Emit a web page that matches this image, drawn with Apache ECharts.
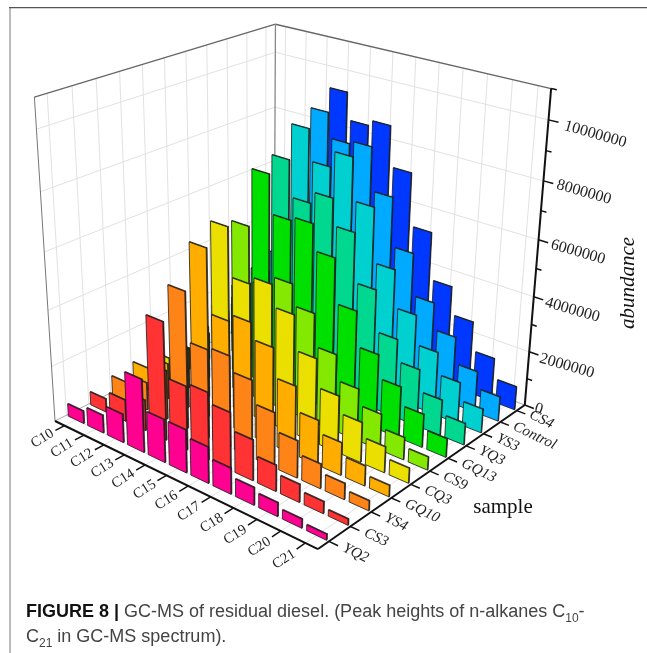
<!DOCTYPE html>
<html><head><meta charset="utf-8">
<style>html,body{margin:0;padding:0;background:#fff}#c{width:647px;height:653px}</style>
<script src="https://cdn.jsdelivr.net/npm/echarts@6/dist/echarts.min.js"></script>
</head><body><div id="c"></div>
<script>
const carbons = ['C10','C11','C12','C13','C14','C15','C16','C17','C18','C19','C20','C21'];
const samples = ['YQ2','CS3','YS4','GQ10','CQ3','CS9','GQ13','YQ3','YS3','Control','CS4'];
const abundanceTicks = [0,2000000,4000000,6000000,8000000,10000000];
const abundanceMax = 11000000;
const YQ2 = [457000,645000,1026000,2600000,1530000,1520000,1275000,905000,613000,476000,311000,196000];
const CS3 = [488000,778000,1110000,4200000,2270000,2390000,2030000,1430000,915000,625000,412000,208000];
const YS4 = [680000,1000000,1770000,4880000,3150000,3250000,2730000,1940000,1310000,858000,560000,343000];
const GQ10 = [816000,1300000,2200000,6020000,3770000,4030000,3460000,2440000,1580000,1150000,700000,396000];
const CQ3 = [805000,1500000,2600000,6420000,4710000,4980000,4220000,3000000,2010000,1420000,916000,529000];
const CS9 = [800000,1600000,2800000,6120000,4200000,4650000,3900000,2750000,1845000,1280000,796000,466000];
const GQ13 = [1000000,1900000,3200000,7630000,6270000,6410000,5490000,3910000,2670000,1840000,1190000,667000];
const YQ3 = [1100000,2100000,3500000,7840000,6560000,6980000,6040000,4300000,2830000,2050000,1280000,777000];
const YS3 = [1200000,2300000,3800000,8650000,7540000,8110000,6610000,4670000,3330000,2280000,1500000,867000];
const Control = [1200000,2400000,4000000,8960000,8080000,8190000,6660000,4920000,3410000,2450000,1500000,895000];
const CS4 = [1300000,2500000,4200000,9420000,8460000,8660000,7230000,5350000,3650000,2640000,1590000,858000];
const rows = [YQ2,CS3,YS4,GQ10,CQ3,CS9,GQ13,YQ3,YS3,Control,CS4];
const palette = ['#ff0090','#ff3333','#ff8418','#ffae00','#ebdf00','#84e900','#00e000','#00d890','#00d0d0','#00aaff','#0038ff'];

// Perspective camera: unit box -> screen
const cam = {o:[55,421],vx:[-1711,-439],vy:[1681,-400],vz:[258,3611],a:-0.1296,b:0.1557,c:-0.0922};
function P(X,Y,Z){
  const w=1+cam.a*X+cam.b*Y+cam.c*Z;
  return [(cam.a*X*cam.vx[0]+cam.b*Y*cam.vy[0]+cam.c*Z*cam.vz[0]+cam.o[0])/w,
          (cam.a*X*cam.vx[1]+cam.b*Y*cam.vy[1]+cam.c*Z*cam.vz[1]+cam.o[1])/w];
}
const zOf=v=>echarts.number.linearMap(v,[0,abundanceMax],[0,1]);
const xOf=i=>(i+0.5)/carbons.length;
const yOf=i=>(i+0.5)/samples.length;
const barHalf=0.0332, depth=0.004;

function line(a,b,color,width){return {type:'line',shape:{x1:a[0],y1:a[1],x2:b[0],y2:b[1]},style:{stroke:color,lineWidth:width},silent:true};}
function poly(pts,fill,stroke,w){return {type:'polygon',shape:{points:pts},style:{fill,stroke,lineWidth:w,lineJoin:'miter'},silent:true};}
function txt(s,p,rot,font,extra){return {type:'text',x:p[0],y:p[1],rotation:rot*Math.PI/180,silent:true,
  style:Object.assign({text:s,fill:'#222',align:'center',verticalAlign:'middle',font},extra||{})};}

function shade(hex,f){const n=parseInt(hex.slice(1),16);const c=[n>>16,(n>>8)&255,n&255].map(v=>Math.round(v*f));return `rgb(${c.join(',')})`;}

function frameItem(){
  const ch=[], grid='#e2e2e2', gw=1;
  const zt=[2,4,6,8,10].map(v=>v*1e6);
  carbons.forEach((_,i)=>{const x=xOf(i);
    ch.push(line(P(x,0,0),P(x,1,0),grid,gw));
    ch.push(line(P(x,1,0),P(x,1,1),grid,gw));});
  samples.forEach((_,i)=>{const y=yOf(i);
    ch.push(line(P(0,y,0),P(1,y,0),grid,gw));
    ch.push(line(P(0,y,0),P(0,y,1),grid,gw));});
  zt.forEach(v=>{const z=zOf(v);
    ch.push(line(P(0,0,z),P(0,1,z),grid,gw));
    ch.push(line(P(0,1,z),P(1,1,z),grid,gw));});
  ch.push(line(P(0,0,0),P(0,0,1),'#777',1));
  ch.push(line(P(0,0,1),P(0,1,1),'#666',1.3));
  ch.push(line(P(0,1,1),P(1,1,1),'#666',1.3));
  ch.push(line(P(0,1,0),P(0,1,1),'#888',1.3));
  ch.push(line(P(0,0,0),P(0,1,0),'#aaa',1));
  ch.push(line(P(0,1,0),P(1,1,0),'#aaa',1));
  return {type:'group',children:ch};
}
function axesItem(){
  const ch=[], k='#111';
  ch.push(line(P(0,0,0),P(1,0,0),k,2));
  ch.push(line(P(1,0,0),P(1,1,0),k,2));
  ch.push(line(P(1,1,0),P(1,1,1),k,2));
  carbons.forEach((c,i)=>{const x=xOf(i);
    ch.push(line(P(x,0,0),P(x,-0.036,0),k,1.5));
    const p=P(x,-0.09,0);
    ch.push(txt(c,[p[0]+1,p[1]+1],32,'14.5px "Liberation Serif"'));});
  samples.forEach((s,i)=>{const y=yOf(i);
    ch.push(line(P(1,y,0),P(1.03,y,0),k,1.5));
    const p=P(1.068,y,0);
    ch.push(txt(s,[p[0]-6,p[1]-4],-26,'italic 15px "Liberation Serif"',{align:'left'}));});
  for(let v=0;v<=abundanceMax;v+=1000000){
    const z=zOf(v), major=v%2000000===0;
    ch.push(line(P(1,1,z),P(major?1.032:1.018,1,z),k,1.5));
  }
  abundanceTicks.forEach(v=>{
    const z=zOf(v);
    const len=String(v).length;
    const p=P(1.04+len*0.0165,1,z);
    ch.push(txt(String(v),[p[0]-(v?8:2),p[1]+(v>=10000000?1:-2)],-16,'16px "Liberation Serif"'));
  });
  ch.push(txt('abundance',[628,283],90,'italic 21px "Liberation Serif"',{fill:'#111'}));
  ch.push(txt('sample',[503,507],0,'21px "Liberation Serif"',{fill:'#111'}));
  return {type:'group',children:ch};
}
function barItem(r){
  return function(params,api){
    const j=api.value(0), v=api.value(1), z=zOf(v);
    const xl=xOf(j)-barHalf, xr=xOf(j)+barHalf, y=yOf(r), yb=y+depth;
    const col=palette[r], st='#1a1a1a';
    return {type:'group',children:[
      poly([P(xr,y,0),P(xr,yb,0),P(xr,yb,z),P(xr,y,z)],shade(col,0.4),st,0.7),
      poly([P(xl,y,z),P(xr,y,z),P(xr,yb,z),P(xl,yb,z)],shade(col,0.6),st,0.7),
      poly([P(xl,y,0),P(xr,y,0),P(xr,y,z),P(xl,y,z)],col,st,0.8)
    ]};
  };
}
const series=[
 {type:'custom',name:'frame',coordinateSystem:'none',silent:true,data:[[0]],renderItem:frameItem,z:1,animation:false}
];
for(let r=samples.length-1;r>=0;r--){
  series.push({type:'custom',name:samples[r],coordinateSystem:'none',silent:true,z:2+(samples.length-r),animation:false,
    data:rows[r].map((v,j)=>[j,v]),encode:{x:0,y:1},renderItem:barItem(r)});
}
series.push({type:'custom',name:'axes',coordinateSystem:'none',silent:true,data:[[0]],renderItem:axesItem,z:30,animation:false});

const chart=echarts.init(document.getElementById('c'),null,{renderer:'canvas'});
chart.setOption({
  animation:false,backgroundColor:'#fff',
  series,
  graphic:[
    {type:'rect',shape:{x:9,y:7,width:2,height:646},style:{fill:'#bbbbbb'},silent:true},
    {type:'rect',shape:{x:9,y:7,width:638,height:1.3},style:{fill:'#555555'},silent:true},
    {type:'text',x:26,y:600,silent:true,style:{
      text:'{b|FIGURE 8 |} GC-MS of residual diesel. (Peak heights of n-alkanes C{s|10}-\nC{s|21} in GC-MS spectrum).',
      font:'18px "Liberation Sans"',fill:'#444',lineHeight:25,
      rich:{b:{font:'bold 18px "Liberation Sans"',fill:'#111',lineHeight:25},
            s:{font:'12px "Liberation Sans"',fill:'#444',verticalAlign:'bottom',lineHeight:19}}}}
  ]
});
</script></body></html>
